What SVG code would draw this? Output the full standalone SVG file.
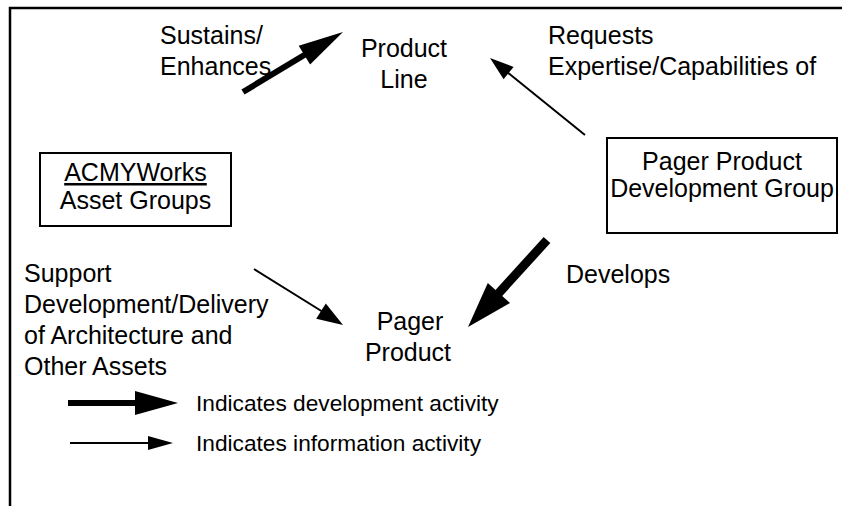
<svg xmlns="http://www.w3.org/2000/svg" width="842" height="506" viewBox="0 0 842 506">
<style>
text{font-family:"Liberation Sans",Arial,sans-serif;font-size:25px;fill:#000}
.c{text-anchor:middle}
.lg{font-size:22.7px}
.box{fill:#fff;stroke:#000;stroke-width:2}
.thick{stroke:#000;fill:none;stroke-linecap:butt}
.thin{stroke:#000;stroke-width:2;fill:none}
.head{fill:#000;stroke:none}
</style>
<rect width="842" height="506" fill="#fff"/>
<g id="frame">
<path d="M10,506 V8 H842" fill="none" stroke="#000" stroke-width="2.5"/>
</g>
<g id="node-product-line">
<text class="c" x="404" y="57">Product</text>
<text class="c" x="404" y="88">Line</text>
</g>
<g id="node-acmyworks">
<rect class="box" x="40" y="153" width="191" height="73"/>
<text class="c" x="135.5" y="181" font-size="24" text-decoration="underline">ACMYWorks</text>
<text class="c" x="135.5" y="209" font-size="24">Asset Groups</text>
</g>
<g id="node-pager-group">
<rect class="box" x="607" y="138" width="230" height="95"/>
<text class="c" x="722" y="170">Pager Product</text>
<text class="c" x="722" y="197">Development Group</text>
</g>
<g id="node-pager-product">
<text class="c" x="410" y="330">Pager</text>
<text class="c" x="408" y="361">Product</text>
</g>
<g id="connectors">
<line class="thick" stroke-width="6" x1="243" y1="92" x2="306" y2="54"/>
<polygon class="head" points="343,32 310.1,64.6 298.7,45.8"/>
<line class="thin" x1="585" y1="135" x2="507" y2="72"/>
<polygon class="head" points="490,58 513.6,66.9 503.6,79.3"/>
<line class="thick" stroke-width="9" x1="547" y1="240" x2="497" y2="295"/>
<polygon class="head" points="468,327 510,303.1 487.8,282.9"/>
<line class="thin" x1="254" y1="269" x2="323" y2="312"/>
<polygon class="head" points="343,325 316.2,318.8 325.8,303.6"/>
</g>
<g id="labels">
<text x="160" y="44">Sustains/</text>
<text x="160" y="75">Enhances</text>
<text x="548" y="44">Requests</text>
<text x="548" y="75">Expertise/Capabilities of</text>
<text x="566" y="283">Develops</text>
<text x="24" y="282">Support</text>
<text x="24" y="313">Development/Delivery</text>
<text x="24" y="344">of Architecture and</text>
<text x="24" y="375">Other Assets</text>
</g>
<g id="legend">
<line class="thick" stroke-width="6" x1="68" y1="403" x2="138" y2="403"/>
<polygon class="head" points="135,391 178,403 135,415"/>
<text class="lg" x="196" y="411">Indicates development activity</text>
<line class="thin" x1="70" y1="443" x2="150" y2="443"/>
<polygon class="head" points="148,436 173,443 148,450"/>
<text class="lg" x="196" y="451">Indicates information activity</text>
</g>
</svg>
